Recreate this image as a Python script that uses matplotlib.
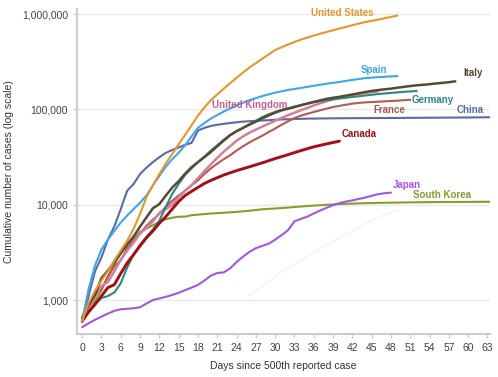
import matplotlib
matplotlib.use("Agg")
import matplotlib.pyplot as plt
import matplotlib.ticker as mtick

plt.rcParams["font.family"] = ["Liberation Sans", "DejaVu Sans"]

# values (days since 500th case -> cumulative cases)
us_days = [0, 1, 2, 3, 4, 5, 6, 7, 8, 9, 10, 11, 12, 13, 14, 15, 16, 17, 18, 19, 20,
           22, 24, 26, 28, 30, 32, 34, 36, 38, 40, 42, 44, 46, 48, 49]
us_cases = [600, 930, 1250, 1600, 2000, 2600, 3300, 4200, 5600, 8000, 12000, 16000,
            21000, 27000, 34000, 43000, 54000, 68000, 86000, 105000, 125000, 165000,
            215000, 275000, 340000, 420000, 480000, 540000, 595000, 650000, 705000,
            765000, 825000, 875000, 935000, 965000]

china_days = [0, 1, 2, 3, 4, 5, 6, 7, 8, 9, 10, 11, 12, 13, 14, 15, 16, 17, 18, 19,
              20, 21, 23, 25, 28, 31, 35, 40, 50, 60, 64]
china_cases = [600, 1100, 2000, 2800, 4300, 5900, 9000, 14000, 16500, 21000, 24500,
               28000, 31500, 35000, 37500, 40000, 42500, 44500, 60000, 64000, 67000,
               69000, 72000, 74500, 76500, 78500, 80000, 80800, 81500, 82300, 82800]

spain_days = [0, 1, 2, 3, 4, 5, 6, 7, 8, 9, 10, 11, 12, 13, 14, 15, 16, 17, 18, 19,
              20, 22, 24, 26, 28, 30, 32, 34, 36, 38, 40, 42, 44, 46, 48, 49]
spain_cases = [600, 1300, 2300, 3400, 4300, 5300, 6500, 7700, 9000, 10500, 12500,
               16000, 20000, 25000, 30000, 35000, 42000, 52000, 64000, 72000, 80000,
               95000, 110000, 125000, 138000, 150000, 160000, 168000, 177000, 186000,
               194000, 204000, 213000, 218000, 222000, 224000]

italy_days = list(range(0, 59))
italy_cases = [655, 888, 1128, 1694, 2036, 2502, 3089, 3858, 4636, 5883, 7375, 9172,
               10149, 12462, 15113, 17660, 21157, 24747, 27980, 31506, 35713, 41035,
               47021, 53578, 59138, 63927, 69176, 74386, 80589, 86498, 92472, 97689,
               101739, 105792, 110574, 115242, 119827, 124632, 128948, 132547, 135586,
               139422, 143626, 147577, 152271, 156363, 159516, 162488, 165155, 168941,
               172434, 175925, 178972, 181228, 183957, 187327, 189973, 192994, 197000]

germany_days = [0, 1, 2, 3, 4, 5, 6, 7, 8, 9, 10, 11, 12, 13, 14, 15, 16, 17, 18, 19,
                20, 21, 22, 23, 24, 25, 26, 27, 28, 29, 30, 31, 32, 34, 36, 38, 40, 42,
                44, 46, 48, 50, 52]
germany_cases = [600, 750, 900, 1050, 1100, 1200, 1500, 2200, 3000, 3800, 4600, 5500,
                 6800, 9500, 13000, 16500, 20500, 24000, 28000, 32000, 37000, 42000,
                 48000, 54000, 59000, 64000, 70000, 76000, 83000, 89000, 94000, 99000,
                 103000, 111000, 119000, 125000, 130000, 135000, 140000, 145000,
                 149000, 153000, 156000]

uk_days = [0, 1, 2, 3, 4, 5, 6, 7, 8, 9, 10, 11, 12, 13, 14, 15, 16, 17, 18, 19, 20,
           21, 22, 23, 24, 25, 26, 28, 30, 32, 34, 36, 38, 40, 42, 44, 46]
uk_cases = [590, 800, 1100, 1400, 1550, 2000, 2650, 3300, 4000, 5000, 5700, 6700,
            8200, 9000, 10000, 12000, 14000, 16000, 19000, 22500, 26500, 31000, 36000,
            41000, 47000, 52000, 57000, 66000, 76000, 87000, 98000, 110000, 122000,
            133000, 142000, 149000, 155000]

france_days = [0, 1, 2, 3, 4, 5, 6, 7, 8, 9, 10, 11, 12, 13, 14, 15, 16, 17, 18, 19,
               20, 21, 22, 23, 24, 25, 26, 27, 28, 29, 30, 31, 32, 33, 34, 35, 36, 37,
               38, 39, 40, 41, 42, 43, 44, 45, 46, 47, 48, 49, 50, 51]
france_cases = [620, 900, 1150, 1300, 1750, 2250, 2600, 3500, 4200, 5000, 6000, 7000,
                8000, 9500, 11000, 12500, 14000, 16000, 18000, 21000, 24000, 27000,
                30000, 33000, 37000, 41000, 45000, 49000, 53000, 58000, 63000, 69000,
                75000, 81000, 86000, 90000, 94000, 98000, 102000, 106000, 109000,
                112000, 115000, 117000, 118500, 119500, 120500, 121500, 122500,
                123500, 125000, 126000]

canada_days = [0, 1, 2, 3, 4, 5, 6, 7, 8, 9, 10, 11, 12, 13, 14, 15, 16, 17, 18, 19,
               20, 22, 24, 26, 28, 30, 32, 34, 36, 38, 40]
canada_cases = [600, 750, 900, 1100, 1350, 1450, 1900, 2450, 3000, 3700, 4500, 5300,
                6400, 7500, 9000, 10800, 12500, 13800, 15200, 16700, 18000, 20500,
                22800, 25000, 27500, 30500, 33500, 37000, 40500, 43500, 46500]

japan_days = list(range(0, 49))
japan_cases = [520, 570, 620, 670, 720, 770, 800, 810, 820, 840, 920, 1000, 1040, 1080,
               1130, 1190, 1270, 1350, 1440, 1600, 1800, 1920, 1950, 2150, 2500, 2850,
               3200, 3500, 3700, 3900, 4300, 4800, 5400, 6700, 7100, 7500, 8100, 8700,
               9300, 9900, 10400, 10800, 11100, 11500, 11900, 12400, 12900, 13200, 13400]

korea_days = [0, 1, 2, 3, 4, 5, 6, 7, 8, 9, 10, 11, 12, 13, 14, 15, 16, 17, 18, 19, 20,
              22, 24, 26, 28, 30, 32, 34, 36, 38, 40, 42, 44, 46, 48, 50, 52, 54, 56,
              58, 60, 62, 64]
korea_cases = [600, 830, 980, 1260, 1770, 2340, 3150, 3740, 4340, 5190, 5620, 6090,
               6590, 7040, 7310, 7480, 7510, 7760, 7870, 7980, 8090, 8240, 8410, 8650,
               8960, 9140, 9330, 9580, 9790, 9980, 10160, 10280, 10380, 10450, 10510,
               10560, 10610, 10650, 10670, 10690, 10710, 10730, 10750]

# faint background country
other_days = [26, 31, 40, 46, 49]
other_cases = [1100, 2000, 4500, 7400, 8800]

x_ticks = list(range(0, 64, 3))
y_ticks = [1000, 10000, 100000, 1000000]

series = [
    # name, days, cases, line colour, text colour, label x, label y, width
    ("South Korea", korea_days, korea_cases, "#8a9a2e", "#8a9a2e", 56, 12600, 1.5),
    ("Japan", japan_days, japan_cases, "#a455e6", "#a455e6", 50.5, 16000, 1.5),
    ("China", china_days, china_cases, "#5a6aa8", "#5a6aa8", 60.3, 98000, 1.5),
    ("France", france_days, france_cases, "#b55a52", "#b3534c", 47.7, 98000, 1.5),
    ("United Kingdom", uk_days, uk_cases, "#d27e9c", "#c8608f", 26, 110000, 1.8),
    ("Germany", germany_days, germany_cases, "#2a8a77", "#2a8a77", 54.5, 126000, 1.5),
    ("Italy", italy_days, italy_cases, "#574a32", "#574a32", 60.7, 240000, 1.8),
    ("Canada", canada_days, canada_cases, "#a50e17", "#a50e17", 43, 55000, 2.1),
    ("Spain", spain_days, spain_cases, "#3ea6ea", "#3ea6ea", 45.3, 257000, 1.5),
    ("United States", us_days, us_cases, "#e8952b", "#e8952b", 40.5, 1030000, 1.5),
]

fig = plt.figure(figsize=(4.98, 3.77), dpi=100)
ax = fig.add_axes([0.1546, 0.114, 0.8294, 0.862])

ax.plot(other_days, other_cases, color="#f3f3f3", linewidth=1.0)

for name, d, c, lc, tc, lx, ly, lw in series:
    ax.plot(d, c, color=lc, linewidth=lw, solid_capstyle="round")
    ax.text(lx, ly, name, color=tc, fontsize=7, fontweight="bold",
            ha="center", va="center")

ax.set_yscale("log")
ax.set_ylim(440, 1130000)
ax.set_xlim(-0.8, 63.4)
ax.set_xticks(x_ticks)
ax.set_yticks(y_ticks)
ax.yaxis.set_major_formatter(mtick.FuncFormatter(lambda v, p: f"{int(v):,}"))
ax.yaxis.set_minor_locator(mtick.NullLocator())

ax.grid(axis="y", color="#e9e9e9", linewidth=1.0)
ax.set_axisbelow(True)
for s in ["top", "right"]:
    ax.spines[s].set_visible(False)
for s in ["left", "bottom"]:
    ax.spines[s].set_color("#cccccc")
    ax.spines[s].set_linewidth(1.5)

ax.tick_params(axis="both", colors="#cccccc", labelcolor="#444444",
               labelsize=7.5, length=3, width=1)

ax.set_xlabel("Days since 500th reported case", fontsize=7.5, color="#333333",
              labelpad=6)
ax.set_ylabel("Cumulative number of cases (log scale)", fontsize=7.5,
              color="#333333", labelpad=6)

fig.savefig("out.png", dpi=100)
plt.close(fig)
